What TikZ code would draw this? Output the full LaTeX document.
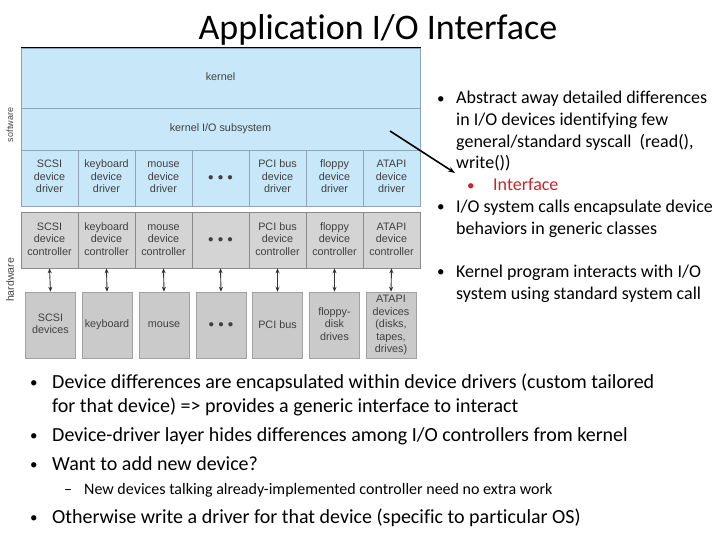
\documentclass[tikz,border=0pt]{standalone}
\usepackage{fontspec}
\setmainfont[Ligatures=NoCommon]{Carlito}
\newfontfamily\diagfont{Liberation Sans}
\usetikzlibrary{arrows.meta}
\definecolor{swblue}{HTML}{C8E7F8}
\definecolor{hwgray}{HTML}{D4D4D4}
\definecolor{devgray}{HTML}{CACACA}
\definecolor{lineblue}{HTML}{8FA5B5}
\definecolor{linegray}{HTML}{8A8A8A}
\definecolor{txtgray}{HTML}{404040}
\definecolor{ifred}{HTML}{C0282E}
\newcommand{\smallbul}{{\fontsize{15}{15}\selectfont\raisebox{0.5pt}{•}}}
\newcommand{\cellt}[1]{\strut#1\strut}
\tikzset{
  dtext/.style={font=\diagfont\fontsize{10.8}{12.5}\selectfont, text=txtgray, align=center, inner sep=0pt},
  swcell/.style={dtext, fill=swblue, draw=lineblue, line width=0.6pt, minimum width=57pt, minimum height=56pt},
  hwcell/.style={dtext, fill=hwgray, draw=linegray, line width=0.6pt, minimum width=57pt, minimum height=56pt},
  devbox/.style={dtext, fill=devgray, draw=linegray!80, line width=0.5pt, minimum width=50pt, minimum height=66pt},
  link/.style={{Stealth[length=5pt,width=4pt]}-{Stealth[length=5pt,width=4pt]}, line width=0.9pt, draw=black!80},
  rtext/.style={anchor=base west, inner sep=0pt, font=\fontsize{18}{22}\selectfont},
  btext/.style={anchor=base west, inner sep=0pt, font=\fontsize{20}{24}\selectfont},
  stext/.style={anchor=base west, inner sep=0pt, font=\fontsize{16}{19}\selectfont},
}
\begin{document}
\begin{tikzpicture}[x=1pt,y=-1pt]
\useasboundingbox (0,0) rectangle (720,540);
% title
\node[font=\fontsize{36}{42}\selectfont, inner sep=0pt, anchor=base] (title) at (378,40) {Application I/O Interface};
% software layers
\node[swcell, minimum width=399pt, minimum height=60pt, anchor=north west] (kernel) at (21,48) {};
\node[dtext] (kernellbl) at (220.5,77) {kernel};
\node[swcell, minimum width=399pt, minimum height=42pt, anchor=north west] (kio) at (21,108) {};
\node[dtext] (kiolbl) at (220.5,129) {kernel I/O subsystem};
\draw[black, line width=1pt] (kernel.north west) -- (kernel.north east);
% drivers
\node[swcell] (dr1) at (49.5,178) {\cellt{SCSI\\device\\driver}};
\node[swcell] (dr2) at (106.5,178) {\cellt{keyboard\\device\\driver}};
\node[swcell] (dr3) at (163.5,178) {\cellt{mouse\\device\\driver}};
\node[swcell] (dr4) at (220.5,178) {$\bullet\,\bullet\,\bullet$};
\node[swcell] (dr5) at (277.5,178) {\cellt{PCI bus\\device\\driver}};
\node[swcell] (dr6) at (334.5,178) {\cellt{floppy\\device\\driver}};
\node[swcell] (dr7) at (391.5,178) {\cellt{ATAPI\\device\\driver}};
% controllers
\node[hwcell] (c1) at (49.5,240) {\cellt{SCSI\\device\\controller}};
\node[hwcell] (c2) at (106.5,240) {\cellt{keyboard\\device\\controller}};
\node[hwcell] (c3) at (163.5,240) {\cellt{mouse\\device\\controller}};
\node[hwcell] (c4) at (220.5,240) {$\bullet\,\bullet\,\bullet$};
\node[hwcell] (c5) at (277.5,240) {\cellt{PCI bus\\device\\controller}};
\node[hwcell] (c6) at (334.5,240) {\cellt{floppy\\device\\controller}};
\node[hwcell] (c7) at (391.5,240) {\cellt{ATAPI\\device\\controller}};
% devices
\node[devbox] (d1) at (50.5,325) {\cellt{SCSI\\devices}};
\node[devbox] (d2) at (107,325) {keyboard};
\node[devbox] (d3) at (164,325) {mouse};
\node[devbox] (d4) at (221,325) {$\bullet\,\bullet\,\bullet$};
\node[devbox] (d5) at (277.5,325) {PCI bus};
\node[devbox] (d6) at (334.5,325) {\cellt{floppy-\\disk\\drives}};
\node[devbox] (d7) at (391,325) {\cellt{ATAPI\\devices\\(disks,\\tapes,\\drives)}};
\foreach \i in {1,...,7} {\draw[link] (c\i.south) -- (d\i.north);}
% side labels
\node[dtext, rotate=90, font=\diagfont\fontsize{9}{11}\selectfont] (sw) at (10,125) {software};
\node[dtext, rotate=90, font=\diagfont\fontsize{10.5}{12}\selectfont] (hw) at (10,280) {hardware};
% pointer
\coordinate (pstart) at (390,131);
\coordinate (pend) at (455,173);
\draw[-{Stealth[length=7pt,width=5pt]}, line width=1.6pt] (pstart) -- (pend);
% right text
\node[rtext] (b1) at (437,104) {\smallbul};
\node[rtext] (r1) at (456,104) {Abstract away detailed differences};
\node[rtext] (r2) at (456,126) {in I/O devices identifying few};
\node[rtext] (r3) at (456,148) {general/standard syscall\ \ (read(),};
\node[rtext] (r4) at (456,169) {write())};
\node[rtext, text=ifred] (b2) at (467,191) {\smallbul};
\node[rtext, text=ifred] (r5) at (493,191) {Interface};
\node[rtext] (b3) at (437,212) {\smallbul};
\node[rtext] (r6) at (456,212) {I/O system calls encapsulate device};
\node[rtext] (r7) at (456,234) {behaviors in generic classes};
\node[rtext] (b4) at (437,277) {\smallbul};
\node[rtext] (r8) at (456,277) {Kernel program interacts with I/O};
\node[rtext] (r9) at (456,299) {system using standard system call};
% bottom text
\node[btext] (bb1) at (30,388) {\smallbul};
\node[btext] (l1) at (52,388) {Device differences are encapsulated within device drivers (custom tailored};
\node[btext] (l2) at (52,412) {for that device) => provides a generic interface to interact};
\node[btext] (bb2) at (30,441) {\smallbul};
\node[btext] (l3) at (52,441) {Device-driver layer hides differences among I/O controllers from kernel};
\node[btext] (bb3) at (30,470) {\smallbul};
\node[btext] (l4) at (52,470) {Want to add new device?};
\node[stext] (dash) at (64,494) {–};
\node[stext] (l5) at (84,494) {New devices talking already-implemented controller need no extra work};
\node[btext] (bb4) at (30,523) {\smallbul};
\node[btext] (l6) at (52,523) {Otherwise write a driver for that device (specific to particular OS)};
\end{tikzpicture}
\end{document}
